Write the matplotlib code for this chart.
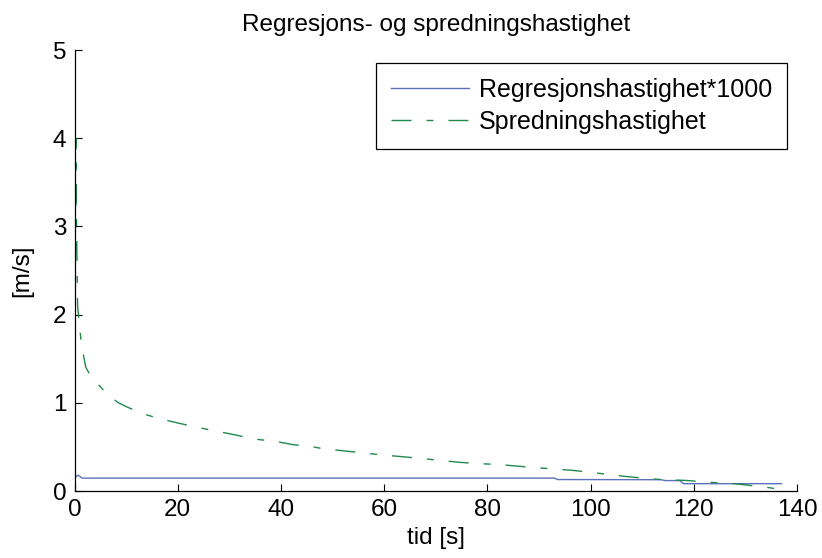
import matplotlib
matplotlib.use("Agg")
import matplotlib.pyplot as plt

plt.rcParams['font.family'] = ['Liberation Sans', 'DejaVu Sans']
plt.rcParams['lines.scale_dashes'] = False

# Regresjonshastighet*1000
t_reg = [0, 0.7, 1.5, 93.0, 93.6, 113.6, 114.5, 117.3, 118.0, 137.0]
v_reg = [0.15, 0.18, 0.146, 0.146, 0.13, 0.128, 0.118, 0.118, 0.083, 0.083]

# Spredningshastighet
t_spr = [0, 0.15, 0.3, 0.35, 0.6, 1.0, 1.4, 2.2, 3.0, 4.0, 5.5, 6.9, 8.5, 10.1, 13, 16.5,
         20.4, 24, 27.5, 31.4, 34.6, 38.8, 42.3, 45.6, 48.1, 51.7, 55.5, 59.4, 63.3, 67,
         70.7, 74.6, 78.5, 82.3, 86.2, 92, 95.9, 99.7, 103, 106.8, 111.4, 115, 118.5,
         122.6, 128, 134, 136.9]
v_spr = [0, 2.5, 4.0, 3.2, 2.1, 1.85, 1.64, 1.40, 1.32, 1.25, 1.15, 1.07, 1.0, 0.955, 0.88,
         0.82, 0.766, 0.72, 0.678, 0.633, 0.59, 0.564, 0.526, 0.507, 0.48, 0.458, 0.435,
         0.41, 0.39, 0.37, 0.348, 0.325, 0.31, 0.30, 0.28, 0.253, 0.237, 0.215, 0.19,
         0.165, 0.139, 0.125, 0.12, 0.10, 0.082, 0.043, 0.017]

x_ticks = [0, 20, 40, 60, 80, 100, 120, 140]
y_ticks = [0, 1, 2, 3, 4, 5]

W, H = 822, 558
fig = plt.figure(figsize=(W / 100, H / 100), dpi=100)
ax = fig.add_axes([74.5 / W, 1 - 491 / H, (797 - 74.5) / W, (491 - 50) / H])

ax.plot(t_reg, v_reg, color='#5a70bc', lw=1.0, label='Regresjonshastighet*1000')
ax.plot(t_spr, v_spr, color='#1f8a4c', lw=1.0,
        linestyle=(0, (14.4, 10.8, 5.0, 10.8)), label='Spredningshastighet')

ax.set_xlim(0, 140)
ax.set_ylim(0, 5)
ax.set_xticks(x_ticks)
ax.set_yticks(y_ticks)
ax.tick_params(direction='in', length=5, width=0.8, labelsize=17.5, pad=6)
for s in ['top', 'right']:
    ax.spines[s].set_visible(False)
for s in ['left', 'bottom']:
    ax.spines[s].set_linewidth(0.9)

ax.set_xlabel('tid [s]', fontsize=17.5, labelpad=4)
ax.set_ylabel('[m/s]', fontsize=17.5, labelpad=14)
ax.set_title('Regresjons- og spredningshastighet', fontsize=17.5, pad=14)

leg = ax.legend(loc='upper right', bbox_to_anchor=(787 / W, 1 - 63 / H),
                bbox_transform=fig.transFigure, borderaxespad=0, fontsize=18,
                fancybox=False, framealpha=1, edgecolor='black', handlelength=3.1,
                handletextpad=0.4, labelspacing=0.3, borderpad=0.6)
leg.get_frame().set_linewidth(0.9)

fig.savefig('out.png', dpi=100)
